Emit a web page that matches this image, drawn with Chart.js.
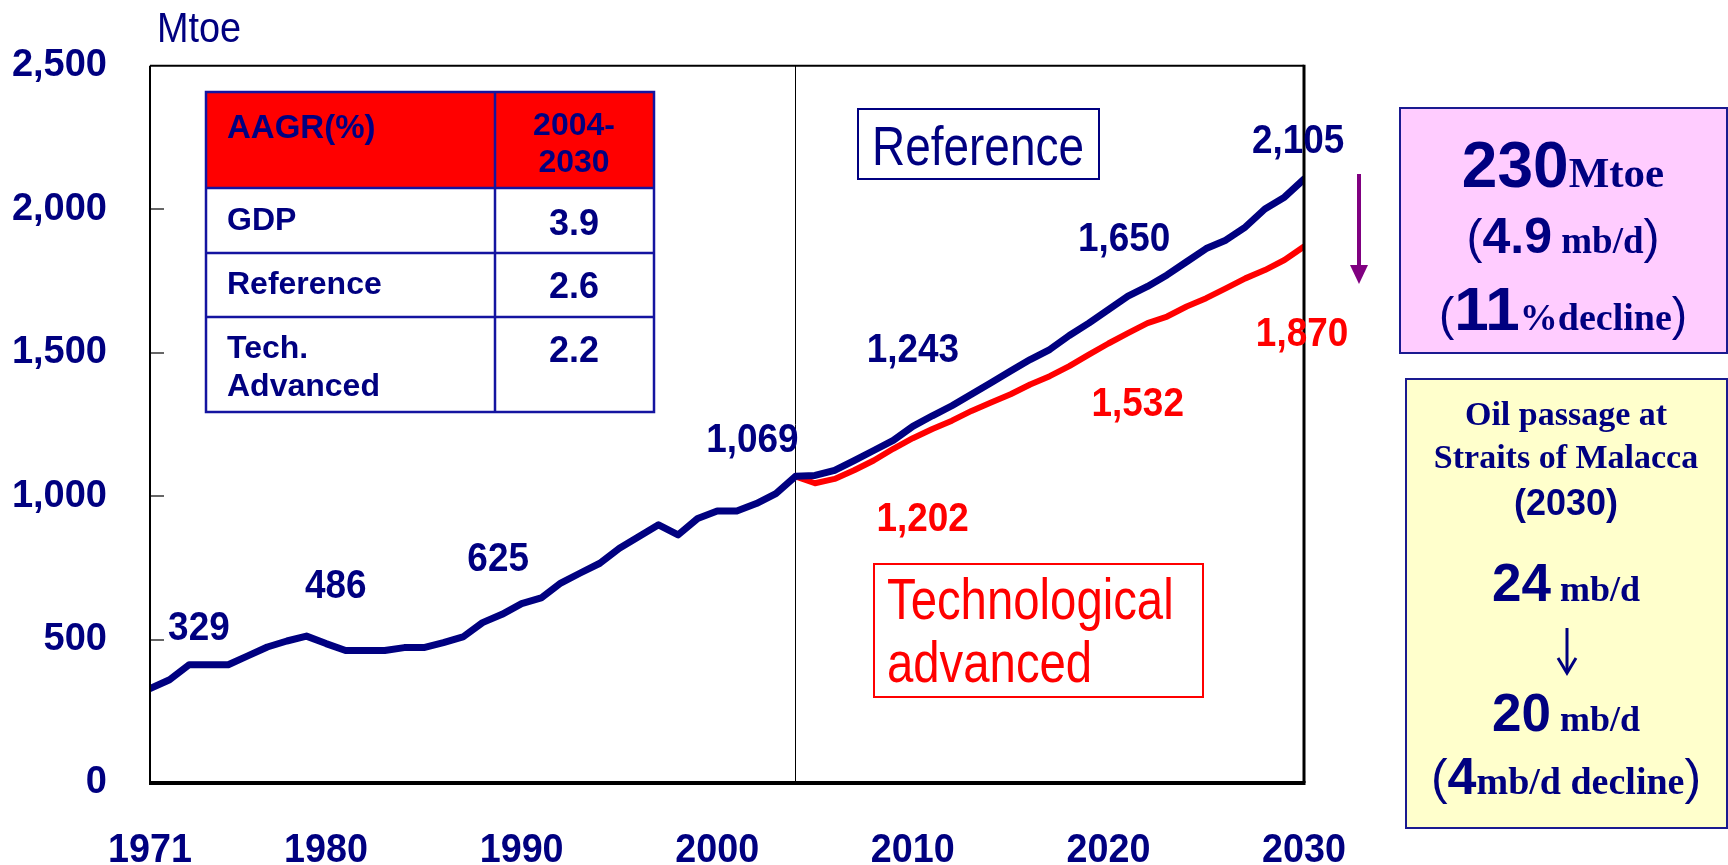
<!DOCTYPE html>
<html>
<head>
<meta charset="utf-8">
<script src="https://cdn.jsdelivr.net/npm/chart.js@4.4.1/dist/chart.umd.min.js"></script>
<style>
  html, body { margin: 0; padding: 0; background: #ffffff; }
  #wrap { width: 1728px; height: 865px; position: relative; }
  canvas { display: block; }
</style>
</head>
<body>
<div id="wrap"><canvas id="c" width="1728" height="865"></canvas></div>
<script>
// ---------------- data ----------------
const histYears = [1971,1972,1973,1974,1975,1976,1977,1978,1979,1980,1981,1982,1983,1984,1985,1986,1987,1988,1989,1990,1991,1992,1993,1994,1995,1996,1997,1998,1999,2000,2001,2002,2003,2004];
const histValues = [329,360,412,412,412,443,474,495,512,486,462,462,462,472,472,489,509,559,588,625,645,697,732,766,818,859,900,865,922,948,948,974,1009,1069];
const projYears = [2004,2005,2006,2007,2008,2009,2010,2011,2012,2013,2014,2015,2016,2017,2018,2019,2020,2021,2022,2023,2024,2025,2026,2027,2028,2029,2030];
const refValues = [1069,1072,1090,1124,1159,1194,1243,1280,1315,1355,1395,1436,1476,1511,1560,1603,1650,1697,1731,1771,1817,1863,1892,1938,2001,2042,2105];
const techValues = [1069,1045,1060,1090,1124,1165,1202,1234,1263,1297,1326,1355,1389,1418,1453,1493,1532,1568,1603,1626,1661,1690,1724,1759,1788,1823,1870];
const xTickYears = [1971,1980,1990,2000,2010,2020,2030];
const yMin = 0, yMax = 2500, yStep = 500;
const splitYear = 2004;

// value labels: [text, year at label centre, value at label centre]
const refLabels = [['329',1973.5,550],['486',1980.5,696],['625',1988.8,789],['1,069',2001.8,1205],['1,243',2010.0,1520],['1,650',2020.8,1904],['2,105',2029.7,2248]];
const techLabels = [['1,202',2010.5,931],['1,532',2021.5,1330],['1,870',2029.9,1575]];

const tableHeader = ['AAGR(%)', '2004-\n2030'];
const tableRows = [['GDP','3.9'],['Reference','2.6'],['Tech.\nAdvanced','2.2']];

// ---------------- styles ----------------
const NAVY = '#000080';
const RED = '#ff0000';
const SANS = '"Liberation Sans", Arial, sans-serif';
const SERIF = '"Liberation Serif", "Times New Roman", serif';
// condensed faces: marker family => horizontally compressed Liberation Sans
function cond(pct) { return '"XCond' + pct + '", "Liberation Sans", Arial, sans-serif'; }

(function () {
  const proto = CanvasRenderingContext2D.prototype;
  const orig = proto.fillText;
  proto.fillText = function (text, x, y, maxW) {
    const m = /XCond(\d+)/.exec(this.font);
    if (m) {
      const sx = +m[1] / 100;
      this.save();
      this.translate(x, y);
      this.scale(sx, 1);
      orig.call(this, text, 0, 0);
      this.restore();
      return;
    }
    return maxW === undefined ? orig.call(this, text, x, y) : orig.call(this, text, x, y, maxW);
  };
})();

function pts(xs, ys) { return xs.map((x, i) => ({ x: x, y: ys[i] })); }
const refSeries = pts(histYears, histValues).concat(pts(projYears.slice(1), refValues.slice(1)));
const techSeries = pts(projYears, techValues);

function drawRich(ctx, segs, cx, baseline) {
  let total = 0;
  segs.forEach(s => { ctx.font = s.f; s.w = ctx.measureText(s.t).width; total += s.w; });
  let x = cx - total / 2;
  ctx.textAlign = 'left';
  ctx.textBaseline = 'alphabetic';
  segs.forEach(s => { ctx.font = s.f; ctx.fillStyle = s.c || NAVY; ctx.fillText(s.t, x, baseline); x += s.w; });
}

const LABEL_SIZE = 41;

const decorPlugin = {
  id: 'decor',
  beforeDatasetsDraw(chart) {
    const { ctx, chartArea: a, scales } = chart;
    ctx.save();
    const xs = scales.x.getPixelForValue(splitYear);
    ctx.strokeStyle = '#000';
    ctx.lineWidth = 1;
    ctx.beginPath(); ctx.moveTo(Math.round(xs) + 0.5, a.top); ctx.lineTo(Math.round(xs) + 0.5, a.bottom); ctx.stroke();
    ctx.strokeStyle = '#666';
    ctx.lineWidth = 2;
    for (let v = yMin + yStep; v < yMax; v += yStep) {
      const y = Math.round(scales.y.getPixelForValue(v));
      ctx.beginPath(); ctx.moveTo(a.left, y); ctx.lineTo(a.left + 14, y); ctx.stroke();
    }
    ctx.restore();
  },
  afterDatasetsDraw(chart) {
    const { ctx, chartArea: a, scales } = chart;
    ctx.save();
    // frame
    ctx.strokeStyle = '#000';
    ctx.lineWidth = 2;
    ctx.beginPath(); ctx.moveTo(a.left, a.top); ctx.lineTo(a.right, a.top); ctx.stroke();
    ctx.beginPath(); ctx.moveTo(a.left, a.top); ctx.lineTo(a.left, a.bottom); ctx.stroke();
    ctx.lineWidth = 3;
    ctx.beginPath(); ctx.moveTo(a.right, a.top - 1); ctx.lineTo(a.right, a.bottom); ctx.stroke();
    ctx.lineWidth = 4;
    ctx.beginPath(); ctx.moveTo(a.left - 1, a.bottom); ctx.lineTo(a.right + 1.5, a.bottom); ctx.stroke();

    // "Mtoe"
    ctx.fillStyle = NAVY;
    ctx.font = '43px ' + cond(88);
    ctx.textAlign = 'left'; ctx.textBaseline = 'alphabetic';
    ctx.fillText('Mtoe', 157, 42);

    // value labels (anchored on the chart scales)
    ctx.textAlign = 'center'; ctx.textBaseline = 'alphabetic';
    ctx.font = 'bold ' + LABEL_SIZE + 'px ' + cond(90);
    const capHalf = 0.358 * LABEL_SIZE;
    ctx.fillStyle = NAVY;
    refLabels.forEach(l => ctx.fillText(l[0], scales.x.getPixelForValue(l[1]), scales.y.getPixelForValue(l[2]) + capHalf));
    ctx.fillStyle = RED;
    techLabels.forEach(l => ctx.fillText(l[0], scales.x.getPixelForValue(l[1]), scales.y.getPixelForValue(l[2]) + capHalf));

    // table
    const tL = 206, tR = 654, tT = 92, tB = 412, tC = 495;
    const rowsY = [188, 253, 317];
    ctx.fillStyle = RED;
    ctx.fillRect(tL, tT, tR - tL, rowsY[0] - tT);
    ctx.fillStyle = '#ffffff';
    ctx.fillRect(tL, rowsY[0], tR - tL, tB - rowsY[0]);
    ctx.strokeStyle = '#1414a0';
    ctx.lineWidth = 2.5;
    ctx.strokeRect(tL, tT, tR - tL, tB - tT);
    rowsY.forEach(y => { ctx.beginPath(); ctx.moveTo(tL, y); ctx.lineTo(tR, y); ctx.stroke(); });
    ctx.beginPath(); ctx.moveTo(tC, tT); ctx.lineTo(tC, tB); ctx.stroke();

    ctx.fillStyle = NAVY;
    ctx.textBaseline = 'alphabetic';
    ctx.font = 'bold 33px ' + SANS;
    ctx.textAlign = 'left';
    ctx.fillText(tableHeader[0], 227, 138);
    ctx.textAlign = 'center';
    ctx.font = 'bold 32px ' + SANS;
    const hdr = tableHeader[1].split('\n');
    ctx.fillText(hdr[0], 574, 135);
    ctx.fillText(hdr[1], 574, 172);
    const rowBase = [[230, 235], [294, 298], [358, 362]];
    tableRows.forEach((r, i) => {
      const parts = r[0].split('\n');
      ctx.font = 'bold 32px ' + SANS;
      ctx.textAlign = 'left';
      parts.forEach((p, j) => ctx.fillText(p, 227, rowBase[i][0] + j * 38));
      ctx.font = 'bold 36px ' + SANS;
      ctx.textAlign = 'center';
      ctx.fillText(r[1], 574, rowBase[i][1]);
    });

    // legend boxes
    ctx.lineWidth = 2;
    ctx.strokeStyle = NAVY;
    ctx.strokeRect(858, 109, 241, 70);
    ctx.fillStyle = NAVY;
    ctx.font = '56px ' + cond(82);
    ctx.textAlign = 'center';
    ctx.fillText('Reference', 978, 165);

    ctx.strokeStyle = RED;
    ctx.strokeRect(874, 564, 329, 133);
    ctx.fillStyle = RED;
    ctx.font = '57px ' + cond(83);
    ctx.textAlign = 'left';
    ctx.fillText('Technological', 887, 619);
    ctx.fillText('advanced', 887, 682);

    // purple arrow
    ctx.strokeStyle = '#800080';
    ctx.fillStyle = '#800080';
    ctx.lineWidth = 4;
    ctx.beginPath(); ctx.moveTo(1359, 174); ctx.lineTo(1359, 268); ctx.stroke();
    ctx.beginPath(); ctx.moveTo(1350, 265); ctx.lineTo(1368, 265); ctx.lineTo(1359, 284); ctx.closePath(); ctx.fill();

    // pink box
    ctx.fillStyle = '#ffccff';
    ctx.fillRect(1400, 108, 327, 245);
    ctx.strokeStyle = '#1a1a90';
    ctx.lineWidth = 2;
    ctx.strokeRect(1400, 108, 327, 245);
    drawRich(ctx, [{t:'230', f:'bold 64px ' + SANS}, {t:'Mtoe', f:'bold 43px ' + SERIF}], 1563, 187);
    drawRich(ctx, [{t:'(', f:'48px ' + SANS}, {t:'4.9', f:'bold 50px ' + SANS}, {t:' mb/d', f:'bold 37px ' + SERIF}, {t:')', f:'48px ' + SANS}], 1563, 253);
    drawRich(ctx, [{t:'(', f:'46px ' + SANS}, {t:'11', f:'bold 62px ' + SANS}, {t:'%decline', f:'bold 38px ' + SERIF}, {t:')', f:'46px ' + SANS}], 1563, 330);

    // yellow box
    ctx.fillStyle = '#ffffcc';
    ctx.fillRect(1406, 379, 321, 449);
    ctx.strokeStyle = '#1a1a90';
    ctx.strokeRect(1406, 379, 321, 449);
    drawRich(ctx, [{t:'Oil passage at', f:'bold 34px ' + SERIF}], 1566, 425);
    drawRich(ctx, [{t:'Straits of Malacca', f:'bold 34px ' + SERIF}], 1566, 468);
    drawRich(ctx, [{t:'(2030)', f:'bold 36px ' + SANS}], 1566, 515);
    drawRich(ctx, [{t:'24', f:'bold 53px ' + SANS}, {t:' mb/d', f:'bold 36px ' + SERIF}], 1566, 601);
    ctx.strokeStyle = NAVY;
    ctx.lineWidth = 3;
    ctx.beginPath(); ctx.moveTo(1567, 628); ctx.lineTo(1567, 672); ctx.stroke();
    ctx.beginPath(); ctx.moveTo(1558, 658); ctx.lineTo(1567, 673); ctx.lineTo(1576, 658); ctx.stroke();
    drawRich(ctx, [{t:'20', f:'bold 53px ' + SANS}, {t:' mb/d', f:'bold 36px ' + SERIF}], 1566, 731);
    drawRich(ctx, [{t:'(', f:'50px ' + SANS}, {t:'4', f:'bold 52px ' + SANS}, {t:'mb/d decline', f:'bold 38px ' + SERIF}, {t:')', f:'50px ' + SANS}], 1566, 794);

    ctx.restore();
  }
};

new Chart(document.getElementById('c'), {
  type: 'line',
  data: {
    datasets: [
      { label: 'Reference', data: refSeries, borderColor: NAVY, backgroundColor: NAVY, borderWidth: 7, pointRadius: 0, tension: 0, borderJoinStyle: 'round', borderCapStyle: 'round' },
      { label: 'Technological advanced', data: techSeries, borderColor: RED, backgroundColor: RED, borderWidth: 6, pointRadius: 0, tension: 0, borderJoinStyle: 'round', borderCapStyle: 'round' }
    ]
  },
  options: {
    responsive: false,
    animation: false,
    events: [],
    layout: { padding: { top: 62, right: 424, left: 0, bottom: 0 } },
    plugins: { legend: { display: false }, tooltip: { enabled: false } },
    scales: {
      x: {
        type: 'linear', min: 1971, max: 2030,
        afterBuildTicks: axis => { axis.ticks = xTickYears.map(v => ({ value: v })); },
        afterFit: axis => { axis.height = 82; },
        grid: { display: false, drawTicks: false },
        border: { display: false },
        ticks: { autoSkip: false, maxRotation: 0, padding: 43, color: NAVY, font: { family: cond(92), size: 41, weight: 'bold' }, callback: v => String(v) }
      },
      y: {
        min: yMin, max: yMax,
        afterFit: axis => { axis.width = 150; },
        grid: { display: false, drawTicks: false },
        border: { display: false },
        ticks: { stepSize: yStep, padding: 43, color: NAVY, font: { family: SANS, size: 38, weight: 'bold' }, callback: v => v.toLocaleString('en-US') }
      }
    }
  },
  plugins: [decorPlugin]
});
</script>
</body>
</html>
